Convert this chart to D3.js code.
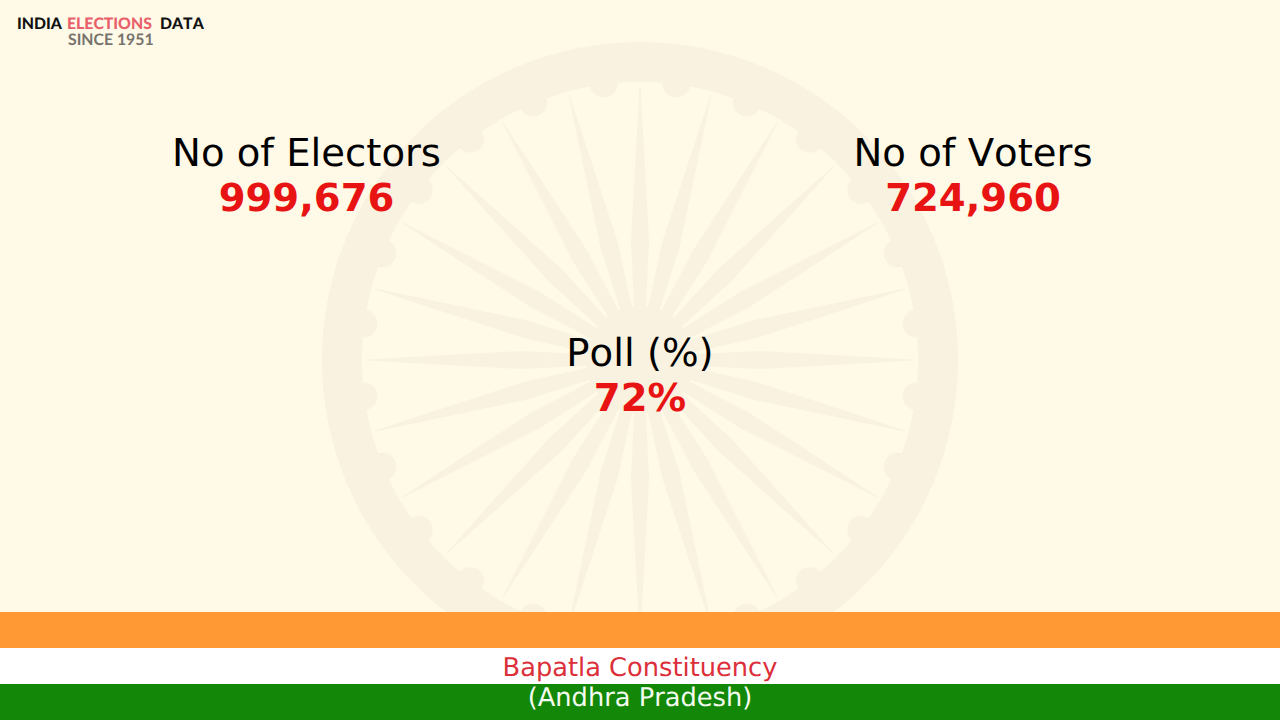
<!DOCTYPE html>
<html><head><meta charset="utf-8">
<script src="https://cdn.jsdelivr.net/npm/d3@7"></script>
<style>html,body{margin:0;padding:0;background:#FFF9E8;overflow:hidden}svg{display:block}text{font-family:"DejaVu Sans",sans-serif;font-kerning:none;text-rendering:geometricPrecision}</style>
</head><body>
<script>
const statLabels = ["No of Electors", "No of Voters", "Poll (%)"];
const statValues = ["999,676", "724,960", "72%"];
const statX = [306.5, 973, 640];
const statY = [166, 166, 366];
const valueY = [211, 211, 411];
const flagColors = ["#FF9933", "#FFFFFF", "#138808"];
const title = "Bapatla Constituency";
const subtitle = "(Andhra Pradesh)";
const logoWords = ["INDIA", "ELECTIONS", "DATA"];
const logoColors = ["#111111", "#E8616A", "#111111"];
const logoX = [17, 67, 160];
const logoSub = "SINCE 1951";

const W = 1280, H = 720;
const svg = d3.select("body").append("svg").attr("width", W).attr("height", H);
svg.append("rect").attr("width", W).attr("height", H).attr("fill", "#FFF9E8");

const wheelColor = "#F9F2E0";
const clip = svg.append("clipPath").attr("id", "c");
clip.append("rect").attr("width", W).attr("height", 612);
const wrap = svg.append("g").attr("clip-path", "url(#c)");
const wheel = wrap.append("g").attr("transform", "translate(640,360)");

wheel.append("path").attr("fill", wheelColor)
  .attr("d", d3.arc()({innerRadius: 278, outerRadius: 318, startAngle: 0, endAngle: 2 * Math.PI}));
const spokes = d3.range(24).map(i => i * 15);
wheel.selectAll("circle.b").data(spokes).join("circle").attr("class", "b")
  .attr("cx", d => 279 * Math.cos((d + 7.5) * Math.PI / 180))
  .attr("cy", d => 279 * Math.sin((d + 7.5) * Math.PI / 180))
  .attr("r", 14).attr("fill", wheelColor);
wheel.append("circle").attr("r", 54).attr("fill", wheelColor);
wheel.selectAll("path.s").data(spokes).join("path").attr("class", "s")
  .attr("fill", wheelColor)
  .attr("transform", d => `rotate(${d})`)
  .attr("d", "M45,-5.5 L120,-9 L274,-0.5 L274,0.5 L120,9 L45,5.5 Z");

const y = d3.scaleBand().domain(d3.range(3)).range([612, 720]);
svg.selectAll("rect.f").data(flagColors).join("rect").attr("class", "f")
  .attr("x", 0).attr("y", (d, i) => y(i)).attr("width", W).attr("height", y.bandwidth()).attr("fill", d => d);

svg.selectAll("text.l").data(statLabels).join("text").attr("class", "l")
  .attr("x", (d, i) => statX[i]).attr("y", (d, i) => statY[i]).attr("text-anchor", "middle")
  .attr("font-size", 38.6).attr("fill", "#000").text(d => d);
svg.selectAll("text.v").data(statValues).join("text").attr("class", "v")
  .attr("x", (d, i) => statX[i]).attr("y", (d, i) => valueY[i]).attr("text-anchor", "middle")
  .attr("font-size", 38.6).attr("font-weight", "bold").attr("fill", "#E81313").text(d => d);

svg.append("text").attr("x", 640).attr("y", 676).attr("text-anchor", "middle")
  .attr("font-size", 25.7).attr("fill", "#DC2F3A").text(title);
svg.append("text").attr("x", 640).attr("y", 706).attr("text-anchor", "middle")
  .attr("font-size", 25.7).attr("fill", "#F4FBF0").text(subtitle);

svg.selectAll("text.g").data(logoWords).join("text").attr("class", "g")
  .attr("x", (d, i) => logoX[i]).attr("y", 29)
  .style("font-family", "Lato").attr("font-weight", 900).attr("font-size", 15.8)
  .attr("fill", (d, i) => logoColors[i]).text(d => d);
svg.append("text").attr("x", 68).attr("y", 45).style("font-family", "Lato").attr("font-weight", 700)
  .attr("font-size", 15.8).attr("fill", "#77736B").text(logoSub);
</script>
</body></html>
